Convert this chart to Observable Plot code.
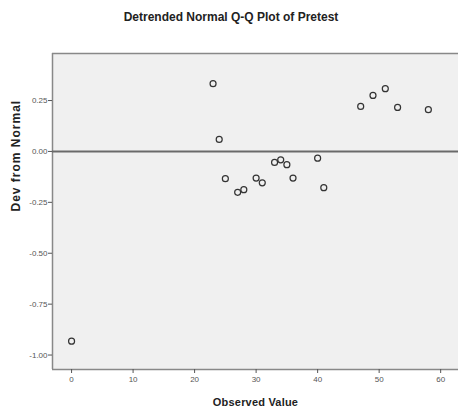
<!DOCTYPE html>
<html>
<head>
<meta charset="utf-8">
<script src="https://cdn.jsdelivr.net/npm/d3@7"></script>
<script src="https://cdn.jsdelivr.net/npm/@observablehq/plot@0.6"></script>
<style>
  html, body { margin: 0; padding: 0; background: #fff; }
  #title { width: 458px; height: 34px; font: bold 12px "Liberation Sans", Arial, sans-serif; line-height: 34px;
           text-align: center; color: #222; padding-left: 4px; box-sizing: border-box; }
  #chart svg { display: block; }
</style>
</head>
<body>
<div id="title">Detrended Normal Q-Q Plot of Pretest</div>
<div id="chart"></div>
<script>
const titleText = "Detrended Normal Q-Q Plot of Pretest";
const xLabel = "Observed Value";
const yLabel = "Dev from Normal";

// observed values and their deviation from normal
const observed = [0, 23, 24, 25, 27, 28, 30, 31, 33, 34, 35, 36, 40, 41, 47, 49, 51, 53, 58];
const deviation = [-0.932, 0.333, 0.059, -0.134, -0.201, -0.188, -0.131, -0.154, -0.054, -0.041, -0.065, -0.131, -0.033, -0.178, 0.221, 0.275, 0.308, 0.216, 0.205];

const xTicks = [0, 10, 20, 30, 40, 50, 60];
const yTicks = [0.25, 0, -0.25, -0.5, -0.75, -1];
const xDomain = [-3.1, 62.9];
const yDomain = [-1.071, 0.481];
const reference = [0];

const points = observed.map((x, i) => ({x, y: deviation[i]}));

const plot = Plot.plot({
  width: 458,
  height: 382,
  marginLeft: 52,
  marginRight: 0,
  marginTop: 19,
  marginBottom: 47,
  style: {fontFamily: "'Liberation Sans', Arial, sans-serif", background: "#fff"},
  x: {domain: xDomain},
  y: {domain: yDomain},
  marks: [
    Plot.frame({fill: "#f0f0f0", stroke: null}),
    Plot.ruleY([yDomain[1]], {stroke: "#888", strokeWidth: 1.5}),
    Plot.ruleX([xDomain[0]], {stroke: "#888", strokeWidth: 1.5}),
    Plot.ruleY([yDomain[0]], {stroke: "#888", strokeWidth: 1.5}),
    Plot.ruleY(reference, {stroke: "#6a6a6a", strokeWidth: 2}),
    Plot.axisX({ticks: xTicks, tickSize: 4, tickPadding: 3, fontSize: 8, color: "#555", label: null, tickFormat: d => String(d)}),
    Plot.axisY({ticks: yTicks, tickSize: 4, tickPadding: 1, fontSize: 8, color: "#555", label: null, tickFormat: d => d.toFixed(2)}),
    Plot.dot(points, {x: "x", y: "y", r: 3, stroke: "#333", strokeWidth: 1.2, fill: "none"}),
    Plot.text([xLabel], {text: d => d, frameAnchor: "bottom", dy: 36, fontSize: 11, fontWeight: "bold", fill: "#222"}),
    Plot.text([yLabel], {text: d => d, frameAnchor: "left", dx: -36, rotate: -90, fontSize: 12, fontWeight: "bold", fill: "#222"})
  ]
});

d3.select(plot).selectAll("text").filter(function() { return this.textContent === yLabel; }).attr("letter-spacing", "1px");
d3.select(plot).selectAll("text").filter(function() { return this.textContent === xLabel; }).attr("letter-spacing", "0.2px");
document.getElementById("chart").appendChild(plot);
</script>
</body>
</html>
